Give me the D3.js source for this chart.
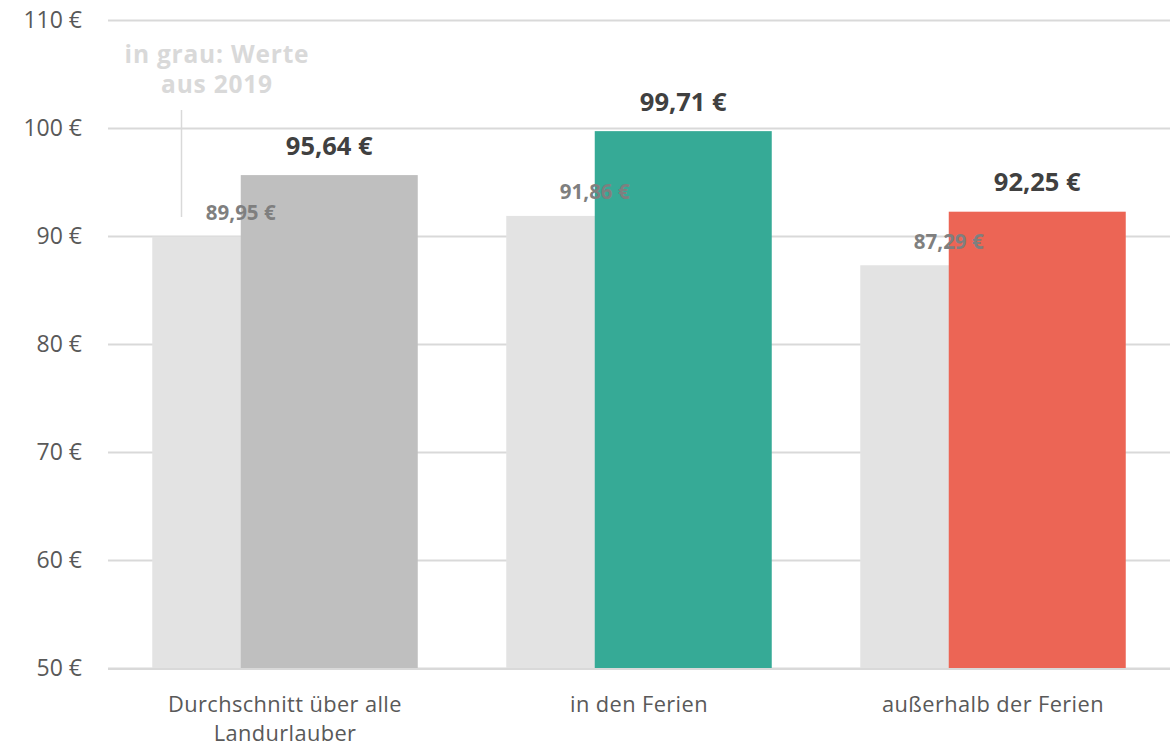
<!DOCTYPE html>
<html><head><meta charset="utf-8">
<script src="https://cdn.jsdelivr.net/npm/d3@7"></script>
<style>body{margin:0;background:#fff;font-family:"Open Sans",sans-serif;}</style>
</head><body>
<svg id="c" width="1176" height="747"></svg>
<script>
const categories = [["Durchschnitt über alle","Landurlauber"],["in den Ferien"],["außerhalb der Ferien"]];
const values2019 = [89.95, 91.86, 87.29];
const valuesNow = [95.64, 99.71, 92.25];
const colorsNow = ["#bfbfbf", "#36aa96", "#ec6555"];
const yTicks = [50,60,70,80,90,100,110];
const annLines = ["in grau: Werte", "aus 2019"];
const fmt = v => v.toFixed(2).replace(".", ",") + " €";

const svg = d3.select("#c");
const mLeft = 108, mRight = 1170, mTop = 20, mBottom = 668;
const y = d3.scaleLinear().domain([50,110]).range([mBottom, mTop]);
const x = d3.scaleBand().domain(d3.range(3)).range([mLeft, mRight]).paddingInner(0).paddingOuter(0);
const bw = x.bandwidth();
const barW = bw * 0.5;
const gap = bw - barW * 1.5;

svg.append("g").selectAll("line").data(yTicks).join("line")
  .attr("x1", mLeft).attr("x2", mRight)
  .attr("y1", d => Math.round(y(d)) + 0.5).attr("y2", d => Math.round(y(d)) + 0.5)
  .attr("stroke", "#d9d9d9").attr("stroke-width", 2);

svg.append("g").selectAll("text").data(yTicks).join("text")
  .attr("x", 82).attr("y", d => y(d) + 8.3)
  .attr("text-anchor", "end").attr("fill", "#595959")
  .attr("font-size", 23).text(d => d + " €");

const x0 = i => x(i) + gap / 2;
const x1 = i => x0(i) + barW / 2;

svg.append("g").selectAll("rect").data(values2019).join("rect")
  .attr("x", (d,i) => x0(i)).attr("width", barW)
  .attr("y", d => y(d)).attr("height", d => mBottom - y(d))
  .attr("fill", "#e3e3e3");

svg.append("g").selectAll("rect").data(valuesNow).join("rect")
  .attr("x", (d,i) => x1(i)).attr("width", barW)
  .attr("y", d => y(d)).attr("height", d => mBottom - y(d))
  .attr("fill", (d,i) => colorsNow[i]);

svg.append("line").attr("x1", mLeft).attr("x2", mRight)
  .attr("y1", mBottom + 1).attr("y2", mBottom + 1)
  .attr("stroke", "#d9d9d9").attr("stroke-width", 2);

svg.append("g").selectAll("text").data(values2019).join("text")
  .attr("x", (d,i) => x0(i) + barW/2).attr("y", d => y(d) - 16.5)
  .attr("text-anchor", "middle").attr("fill", "#7f7f7f")
  .attr("font-weight", 700).attr("font-size", 20.5).text(d => fmt(d));

svg.append("g").selectAll("text").data(valuesNow).join("text")
  .attr("x", (d,i) => x1(i) + barW/2).attr("y", d => y(d) - 20.5)
  .attr("text-anchor", "middle").attr("fill", "#404040")
  .attr("font-weight", 700).attr("font-size", 25.5).text(d => fmt(d));

const xl = svg.append("g").selectAll("text").data(categories).join("text")
  .attr("x", (d,i) => x(i) + bw/2).attr("y", 711.5)
  .attr("text-anchor", "middle").attr("fill", "#595959")
  .attr("font-size", 21.8).attr("letter-spacing", "0.4px");
xl.selectAll("tspan").data(d => d).join("tspan")
  .attr("x", function(){ return this.parentNode.getAttribute("x"); })
  .attr("dy", (d,j) => j === 0 ? 0 : 29.3).text(d => d);

svg.append("g").selectAll("text").data(annLines).join("text")
  .attr("x", 217).attr("y", (d,i) => 63 + i * 30)
  .attr("text-anchor", "middle").attr("fill", "#d9d9d9")
  .attr("font-weight", 700).attr("font-size", 24.5).attr("letter-spacing", "0.8px")
  .text(d => d);
svg.append("line").attr("x1", 181.5).attr("x2", 181.5).attr("y1", 110).attr("y2", 217)
  .attr("stroke", "#d9d9d9").attr("stroke-width", 1.5);
</script>
</body></html>
